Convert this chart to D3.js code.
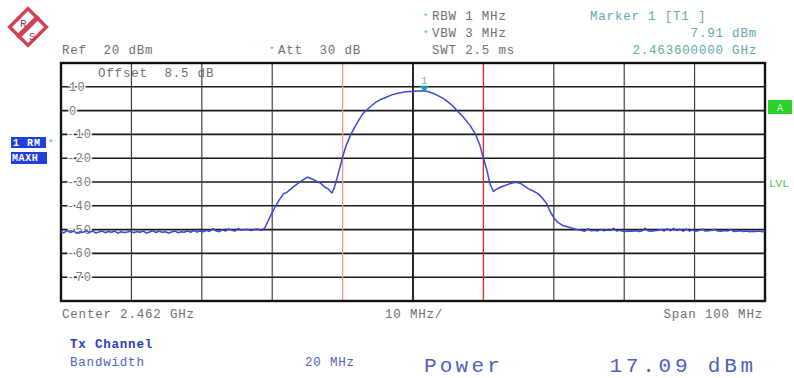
<!DOCTYPE html>
<html><head><meta charset="utf-8">
<script src="https://cdn.jsdelivr.net/npm/d3@7"></script>
<style>
html,body{margin:0;padding:0;background:#fff;}
svg{display:block;}
text{font-family:"Liberation Mono","DejaVu Sans Mono",monospace;}
</style></head>
<body>
<svg id="c" width="794" height="378"></svg>
<script>
// ---------- data ----------
const centerGHz = 2.462;
const spanMHz = 100;
const refLevel = 20;
const yTickValues = [10, 0, -10, -20, -30, -40, -50, -60, -70];
const xGridMHz = [-40, -30, -20, -10, 0, 10, 20, 30, 40];
const channelEdgesMHz = [-10, 10];
const markerMHz = 1.6;
const markerDbm = 8.3;

const floorLeftMHz = [-50,-49.6,-49.1,-48.7,-48.2,-47.8,-47.3,-46.9,-46.4,-46,-45.5,-45.1,-44.6,-44.2,-43.7,-43.3,-42.8,-42.4,-41.9,-41.5,-41,-40.6,-40.1,-39.7,-39.2,-38.8,-38.3,-37.9,-37.4,-37,-36.5,-36.1,-35.6,-35.2,-34.7,-34.3,-33.8,-33.4,-32.9,-32.5,-32,-31.6,-31.1,-30.7,-30.2,-29.8,-29.3,-28.9,-28.4,-28,-27.5,-27.1,-26.6,-26.2,-25.7,-25.3,-24.8,-24.4,-23.9,-23.5,-23,-22.6,-22.1,-21.7,-21.4];
const floorLeftDbm = [-50.8,-51.4,-50.3,-51.2,-50.6,-51.5,-50.9,-51.2,-50.4,-51.3,-50.5,-51.4,-51.0,-50.6,-51.3,-50.8,-51.1,-50.6,-51.5,-50.9,-51.2,-51.0,-50.7,-51.3,-50.8,-51.1,-50.6,-51.4,-51.0,-50.5,-51.2,-50.7,-51.1,-50.9,-51.4,-51.0,-50.6,-51.3,-50.9,-51.1,-50.5,-51.1,-50.4,-51.0,-50.6,-50.9,-50.3,-50.8,-49.6,-50.5,-50.9,-50.1,-50.6,-49.7,-50.3,-50.6,-49.5,-50.2,-50.0,-49.9,-50.4,-50.0,-49.7,-50.3,-50.2];

const bandMHz = [-21.0,-20.6,-20.2,-19.6,-19.0,-18.4,-17.9,-17.5,-16.8,-16.1,-15.5,-15.0,-14.4,-13.7,-13.1,-12.5,-12.0,-11.5,-11.2,-10.8,-10.4,-10.0,-9.5,-8.9,-8.1,-7.1,-6.1,-5.2,-4.5,-3.8,-3.0,-2.3,-1.6,-1.0,-0.4,0.2,0.8,1.6,2.2,2.7,3.2,3.8,4.4,5.0,5.6,6.2,7.1,8.1,8.9,9.5,9.9,10.5,10.9,11.4,11.9,12.4,13.0,13.5,14.1,14.7,15.4,16.0,16.4,17.1,17.8,18.4,19.0,19.5,20.0,20.5,21.3,22.3,23.3];
const bandDbm = [-49.0,-46.5,-44.0,-40.6,-37.5,-35.0,-34.3,-33.3,-31.6,-30.1,-28.9,-28.0,-28.6,-29.7,-30.6,-32.2,-33.0,-34.6,-32.5,-28.5,-24.0,-19.5,-14.8,-10.4,-6.0,-1.2,1.5,3.7,4.8,5.6,6.6,7.2,7.6,7.9,8.0,8.1,8.2,8.3,7.9,7.4,6.8,5.9,4.9,3.6,2.1,0.2,-2.6,-6.2,-10.0,-14.6,-19.0,-25.0,-30.5,-33.9,-33.0,-32.2,-31.6,-31.0,-30.4,-30.1,-30.8,-32.0,-32.9,-33.8,-35.0,-36.8,-39.2,-42.5,-45.0,-46.8,-48.3,-49.1,-50.0];

const floorRightMHz = [24.0,24.4,24.9,25.3,25.8,26.2,26.7,27.1,27.6,28.0,28.5,28.9,29.4,29.8,30.3,30.7,31.2,31.6,32.1,32.5,33.0,33.4,33.9,34.3,34.8,35.2,35.7,36.1,36.6,37.0,37.5,37.9,38.4,38.8,39.3,39.7,40.2,40.6,41.1,41.5,42.0,42.4,42.9,43.3,43.8,44.2,44.7,45.1,45.6,46.0,46.5,46.9,47.4,47.8,48.3,48.7,49.2,49.6,50.0];
const floorRightDbm = [-50.4,-50.7,-49.6,-50.5,-50.3,-50.6,-49.9,-50.5,-50.2,-50.4,-49.5,-50.6,-50.3,-50.7,-50.8,-50.6,-50.7,-50.5,-50.8,-50.6,-49.4,-50.6,-50.7,-50.5,-50.3,-49.9,-50.6,-49.6,-50.5,-49.5,-50.4,-49.8,-50.7,-49.7,-50.6,-50.2,-50.7,-50.4,-49.8,-50.6,-50.5,-50.3,-49.8,-50.6,-50.7,-50.4,-50.6,-49.9,-50.8,-50.7,-50.5,-50.8,-50.6,-50.9,-50.7,-50.8,-50.6,-50.9,-50.8];

const traceMHz = floorLeftMHz.concat(bandMHz, floorRightMHz);
const traceDbm = floorLeftDbm.concat(bandDbm, floorRightDbm);

// ---------- layout ----------
const svg = d3.select("#c");
const L = 61, R = 765, T = 63, B = 301;
const x = d3.scaleLinear().domain([-spanMHz/2, spanMHz/2]).range([L, R]);
const y = d3.scaleLinear().domain([refLevel - 100, refLevel]).range([B, T]);

const gray = "#6f6f6f";
const teal = "#5fa9a9";
const blueTxt = "#4f5fbf";

// R&S logo
const logo = svg.append("g").attr("transform", "translate(28,27) rotate(45)");
logo.append("rect").attr("x", -13).attr("y", -13).attr("width", 26).attr("height", 26)
  .attr("fill", "#fff").attr("stroke", "#d04050").attr("stroke-width", 3.5);
logo.append("rect").attr("x", -15).attr("y", -2.5).attr("width", 30).attr("height", 5)
  .attr("fill", "#d04050").attr("transform", "rotate(-90)");
svg.append("text").attr("x", 20).attr("y", 27).attr("font-size", 11).attr("fill", "#a03040").text("R");
svg.append("text").attr("x", 29).attr("y", 40).attr("font-size", 11).attr("fill", "#a03040").text("S");

// header texts
function t(xp, yp, s, opts = {}) {
  return svg.append("text").attr("x", xp).attr("y", yp)
    .attr("font-size", opts.size || 12.5)
    .attr("letter-spacing", opts.ls !== undefined ? opts.ls : 0.8)
    .attr("fill", opts.fill || gray)
    .attr("font-weight", opts.weight || "normal")
    .attr("text-anchor", opts.anchor || "start")
    .attr("xml:space", "preserve")
    .style("white-space", "pre")
    .text(s);
}
function star(xp, yp) {
  svg.append("text").attr("x", xp).attr("y", yp).attr("font-size", 9).attr("fill", "#33cc55").text("*");
}
t(62, 54, "Ref  20 dBm");
star(269, 53); t(278, 54, "Att  30 dB");
star(423, 20); t(432, 20, "RBW 1 MHz");
star(423, 37); t(432, 37, "VBW 3 MHz");
t(432, 54, "SWT 2.5 ms");
t(590, 20, "Marker 1 [T1 ]", {fill: teal});
t(757, 37, "7.91 dBm", {fill: teal, anchor: "end"});
t(757, 54, "2.463600000 GHz", {fill: teal, anchor: "end"});

// grid
const grid = svg.append("g");
grid.selectAll("line.h").data(yTickValues).join("line")
  .attr("x1", L).attr("x2", R).attr("y1", d => y(d)).attr("y2", d => y(d))
  .attr("stroke", "#1a1a1a").attr("stroke-width", 1.6);
grid.selectAll("line.v").data(xGridMHz.filter(d => !channelEdgesMHz.includes(d))).join("line")
  .attr("y1", T).attr("y2", B).attr("x1", d => x(d)).attr("x2", d => x(d))
  .attr("stroke", d => d === 0 ? "#111" : "#333").attr("stroke-width", d => d === 0 ? 1.8 : 1.1);
grid.selectAll("line.ch").data(channelEdgesMHz).join("line")
  .attr("y1", T).attr("y2", B).attr("x1", d => x(d)).attr("x2", d => x(d))
  .attr("stroke", (d, i) => i === 0 ? "#f09090" : "#dd2222").attr("stroke-width", 1.3);

// y labels (inside plot, with white halo)
svg.selectAll("text.yl").data(yTickValues).join("text")
  .attr("x", d => d < 0 ? 67 : 69).attr("y", d => y(d) + 4)
  .attr("font-size", 12).attr("letter-spacing", 1.2)
  .attr("fill", "#7a7a7a")
  .attr("stroke", "#fff").attr("stroke-width", 3).attr("paint-order", "stroke")
  .text(d => d);

// offset text
t(98, 77, "Offset  8.5 dB");

// frame
svg.append("rect").attr("x", L).attr("y", T).attr("width", R - L).attr("height", B - T)
  .attr("fill", "none").attr("stroke", "#111").attr("stroke-width", 2.4);

// trace
const line = d3.line().x((d, i) => x(traceMHz[i])).y((d, i) => y(traceDbm[i]));
svg.append("path").datum(traceDbm).attr("d", line)
  .attr("fill", "none").attr("stroke", "#3b47d6").attr("stroke-width", 1.5)
  .attr("stroke-linejoin", "round");

// marker
const mx = x(markerMHz), my = y(markerDbm);
svg.append("path").attr("d", `M${mx-5},${my-5} L${mx+5},${my-5} L${mx},${my+1} Z`).attr("fill", "#1aa0a0");
svg.append("text").attr("x", mx).attr("y", my - 7).attr("font-size", 10).attr("fill", "#7aaeae")
  .attr("text-anchor", "middle").text("1");

// left trace info boxes
svg.append("rect").attr("x", 11).attr("y", 137).attr("width", 35).attr("height", 11).attr("fill", "#1f3fd8");
svg.append("text").attr("x", 13).attr("y", 146).attr("font-size", 10).attr("font-weight", "bold")
  .attr("letter-spacing", 1).attr("fill", "#fff").attr("xml:space", "preserve").style("white-space", "pre").text("1 RM");
star(48, 146);
svg.append("rect").attr("x", 11).attr("y", 152).attr("width", 36).attr("height", 12).attr("fill", "#1f3fd8");
svg.append("text").attr("x", 12).attr("y", 161).attr("font-size", 10).attr("font-weight", "bold")
  .attr("letter-spacing", 0.6).attr("fill", "#fff").text("MAXH");

// right side indicators
svg.append("rect").attr("x", 768).attr("y", 100).attr("width", 24).attr("height", 14).attr("fill", "#2ad02a");
svg.append("text").attr("x", 780).attr("y", 111).attr("font-size", 10).attr("fill", "#dfffdf")
  .attr("text-anchor", "middle").text("A");
svg.append("text").attr("x", 769).attr("y", 187).attr("font-size", 11).attr("fill", "#4cbf4c").text("LVL");

// bottom annotation
t(62, 318, "Center 2.462 GHz");
t(385, 318, "10 MHz/");
t(763, 318, "Span 100 MHz", {anchor: "end"});
t(70, 348, "Tx Channel", {fill: "#2a3cb0", weight: "bold"});
t(70, 366, "Bandwidth", {fill: blueTxt});
t(305, 366, "20 MHz", {fill: blueTxt});
t(424, 372, "Power", {fill: blueTxt, size: 21, ls: 3.2});
t(757, 372, "17.09 dBm", {fill: blueTxt, size: 21, ls: 3.8, anchor: "end"});
</script>
</body></html>
